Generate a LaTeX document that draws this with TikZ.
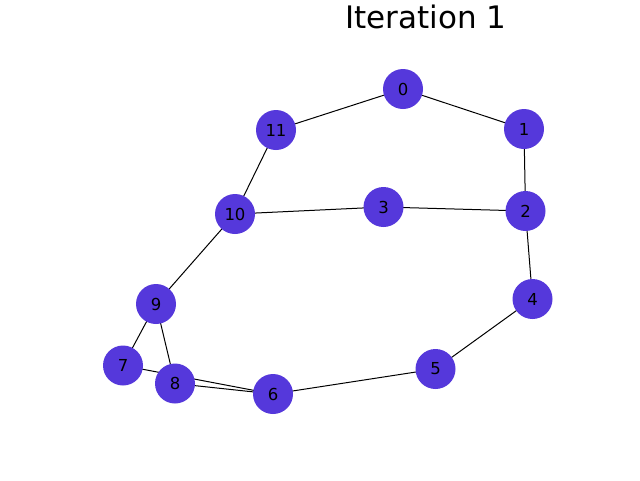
\documentclass[tikz,border=0pt]{standalone}
\usepackage{fontspec}
\setmainfont{DejaVu Sans}
\usepackage{tikz}
\usetikzlibrary{positioning,backgrounds}
\definecolor{nodeblue}{RGB}{85,56,219}

\begin{document}
\begin{tikzpicture}
            [x=1pt,y=-1pt,every node/.style={circle, fill=nodeblue, inner sep = 0pt, minimum width = 40pt, font=\fontsize{16.5}{18}\selectfont}]
          \useasboundingbox (0,0) rectangle (640,480);
          \node[fill=none, anchor=base, font=\fontsize{31}{36}\selectfont] (title) at (426,28) {Iteration 1};

          \node (n0) at (403,89) {0};
          \node (n1) at (524,129) {1};
          \node (n2) at (525.5,211) {2};
          \node (n3) at (383.5,207) {3};
          \node (n4) at (532.5,299) {4};
          \node (n5) at (435.5,369) {5};
          \node (n6) at (273,394) {6};
          \node (n7) at (123,365.5) {7};
          \node (n8) at (175,383.5) {8};
          \node (n9) at (156,304) {9};
          \node (n10) at (235,214) {10};
          \node (n11) at (276,130) {11};

          \begin{pgfonlayer}{background}
          \fill[white] (0,0) rectangle (640,480);
          \foreach \from/\to in {n0/n11, n0/n1, n1/n2, n2/n3, n3/n10, n10/n11, n2/n4, n4/n5, n5/n6, n10/n9, n9/n7, n9/n8, n7/n6, n8/n6}
            \draw[line width=1pt] (\from.center) -- (\to.center);
          \end{pgfonlayer}
        \end{tikzpicture}
\end{document}
